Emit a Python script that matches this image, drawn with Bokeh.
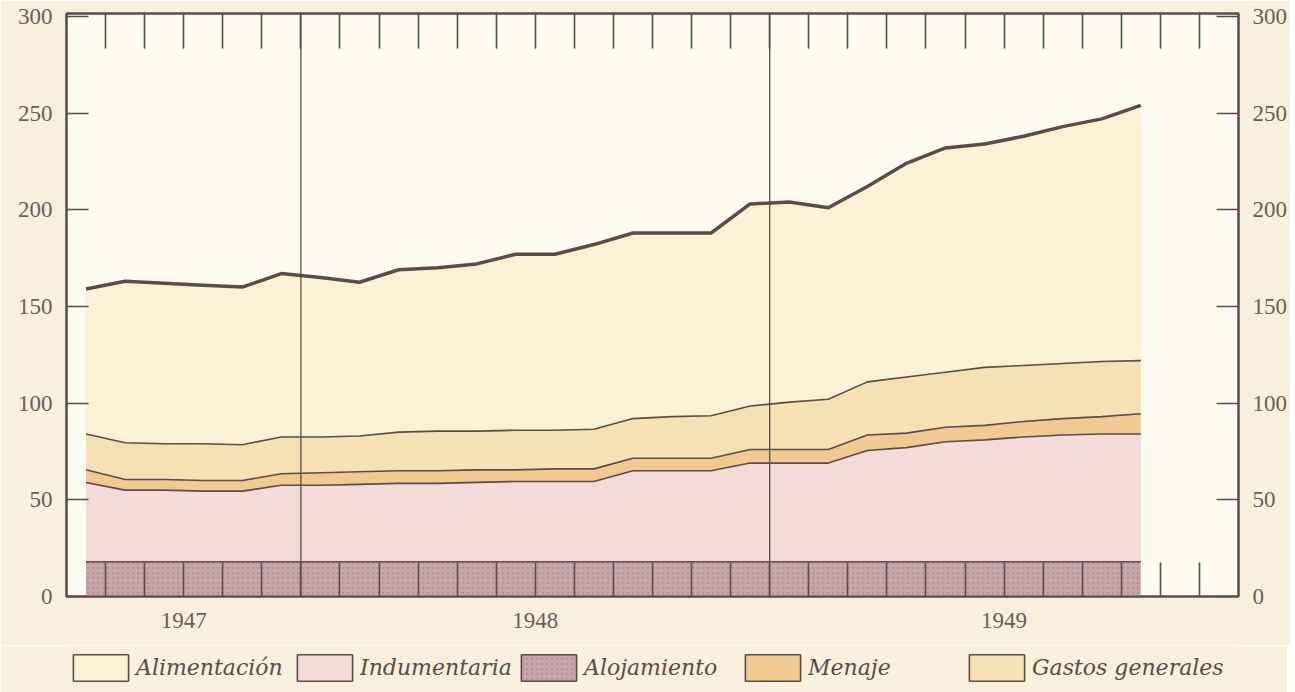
import numpy as np
from bokeh.plotting import figure
from bokeh.layouts import column
from bokeh.models import (Range1d, FixedTicker, LinearAxis, Span, Legend,
                          LegendItem, ColumnDataSource)
from bokeh.embed import file_html
from bokeh.resources import INLINE

# ---------------- data (monthly, Jul 1947 .. Oct 1949) ----------------
month_index = list(range(28))                      # 0 = Jul 1947
year_labels = ["1947", "1948", "1949"]
year_label_pos = [3, 12, 24]                       # centre of each year block (month units)
year_starts = [6, 18]                              # Jan 1948, Jan 1949
y_ticks = [0, 50, 100, 150, 200, 250, 300]

alojamiento = [18] * 28
indumentaria = [41, 37, 37, 36.5, 36.5, 39.5, 39.5, 40, 40.5, 40.5, 41, 41.5, 41.5, 41.5,
                47, 47, 47, 51, 51, 51, 57.5, 59, 62, 63, 64.5, 65.5, 66, 66]
menaje = [6.5, 5.5, 5.5, 5.5, 5.5, 6, 6.5, 6.5, 6.5, 6.5, 6.5, 6, 6.5, 6.5,
          6.5, 6.5, 6.5, 7, 7, 7, 8, 7.5, 7.5, 7.5, 8, 8.5, 9, 10.5]
gastos_generales = [18.5, 19, 18.5, 19, 18.5, 19, 18.5, 18.5, 20, 20.5, 20, 20.5, 20, 20.5,
                    20.5, 21.5, 22, 22.5, 24.5, 26, 27.5, 29, 28.5, 30, 29, 28.5, 28.5, 27.5]
alimentacion = [75, 83.5, 83, 82, 81.5, 84.5, 82.5, 79.5, 84, 84.5, 86.5, 91, 91, 95.5,
                96, 95, 94.5, 104.5, 103.5, 99, 101, 110.5, 116, 115.5, 118.5, 122.5, 125.5, 132]

series_names = ["Alojamiento", "Indumentaria", "Menaje", "Gastos generales", "Alimentación"]
series_vals = [alojamiento, indumentaria, menaje, gastos_generales, alimentacion]
series_colors = ["#c6a5ab", "#f2dbd9", "#f0c993", "#f6e1b5", "#fbf2d6"]

legend_order = ["Alimentación", "Indumentaria", "Alojamiento", "Menaje", "Gastos generales"]

# ---------------- figure ----------------
INK = "#5b4b49"
TXT = "#6b5d5a"
PAPER = "#f8f0dc"
W = 1287

p = figure(frame_width=1172, frame_height=583, output_backend="svg", toolbar_location=None,
           x_range=Range1d(0, 30), y_range=Range1d(0, 301.5),
           min_border_left=66, min_border_right=49, min_border_top=13, min_border_bottom=49)
p.background_fill_color = "#fdfaf0"
p.border_fill_color = PAPER
p.outline_line_color = INK
p.outline_line_width = 2
p.xgrid.visible = False
p.ygrid.visible = False

x = np.array(month_index) + 0.5
cum = np.cumsum(np.array(series_vals, dtype=float), axis=0)
base = np.zeros(len(x))
HATCH = dict(hatch_pattern=".", hatch_color="#9d7f86", hatch_alpha=0.45, hatch_scale=5)
for i, (name, col) in enumerate(zip(series_names, series_colors)):
    top = cum[i]
    src = ColumnDataSource(dict(x=x, y1=base, y2=top))
    kw = HATCH if name == "Alojamiento" else {}
    p.varea(x="x", y1="y1", y2="y2", source=src, fill_color=col, **kw)
    base = top

for i in range(len(series_names)):
    lw = 3.5 if i == len(series_names) - 1 else 1.6
    p.line(x, cum[i], line_color=INK, line_width=lw, line_join="round")

for ys in year_starts:
    p.add_layout(Span(location=ys, dimension="height", line_color=INK, line_width=1.3))

# ---------------- axes ----------------
month_ticks = list(range(1, 30))
xt = FixedTicker(ticks=year_label_pos, minor_ticks=month_ticks)
xt_top = FixedTicker(ticks=[], minor_ticks=month_ticks)
yt = FixedTicker(ticks=y_ticks)
FONT = "Liberation Serif"

xa = p.xaxis[0]
xa.ticker = xt
xa.major_label_overrides = {pos: lab for pos, lab in zip(year_label_pos, year_labels)}
xa.major_tick_in = 0
xa.major_tick_out = 0
xa.minor_tick_in = 34
xa.minor_tick_out = 0
xa.minor_tick_line_color = INK
xa.minor_tick_line_width = 1.6
xa.axis_line_color = INK
xa.axis_line_width = 2
xa.major_label_text_font = FONT
xa.major_label_text_font_size = "23px"
xa.major_label_text_color = TXT
xa.major_label_standoff = 16

top_ax = LinearAxis(ticker=xt_top, major_tick_in=0, major_tick_out=0, minor_tick_in=35,
                    minor_tick_out=0, minor_tick_line_color=INK, minor_tick_line_width=1.6,
                    axis_line_color=INK, axis_line_width=2, major_label_standoff=0)
p.add_layout(top_ax, "above")

ya = p.yaxis[0]
ya.ticker = yt
right_ax = LinearAxis(ticker=yt)
p.add_layout(right_ax, "right")
for ax in (ya, right_ax):
    ax.major_tick_in = 22
    ax.major_tick_out = 0
    ax.minor_tick_in = 0
    ax.minor_tick_out = 0
    ax.major_tick_line_color = INK
    ax.major_tick_line_width = 1.6
    ax.axis_line_color = INK
    ax.axis_line_width = 2
    ax.major_label_text_font = FONT
    ax.major_label_text_font_size = "23px"
    ax.major_label_text_color = TXT
    ax.major_label_standoff = 14

# ---------------- legend (own strip below the chart) ----------------
lf = figure(width=W, height=47, output_backend="svg", toolbar_location=None,
            x_range=Range1d(0, 1), y_range=Range1d(0, 1),
            x_axis_location=None, y_axis_location=None,
            min_border_left=0, min_border_right=0, min_border_top=0, min_border_bottom=0)
lf.background_fill_color = PAPER
lf.border_fill_color = PAPER
lf.outline_line_color = None
lf.xgrid.visible = False
lf.ygrid.visible = False

items = []
for name in legend_order:
    i = series_names.index(name)
    kw = HATCH if name == "Alojamiento" else {}
    proxy = ColumnDataSource(dict(l=[np.nan], r=[np.nan], t=[np.nan], b=[np.nan]))
    r = lf.quad(left="l", right="r", top="t", bottom="b", source=proxy,
                fill_color=series_colors[i], line_color=INK, line_width=1.6, **kw)
    items.append(LegendItem(label=name, renderers=[r]))

legend = Legend(items=items, orientation="horizontal", location=(0, 8),
                glyph_width=69, glyph_height=33, label_standoff=1, label_width=154,
                spacing=0, padding=0, margin=0, border_line_alpha=0,
                background_fill_alpha=0,
                label_text_font="DejaVu Serif", label_text_font_style="italic",
                label_text_font_size="22px", label_text_color=INK)
lf.add_layout(legend, "center")

layout = column(p, lf, spacing=0)
open("out.html", "w").write(file_html(layout, INLINE))
